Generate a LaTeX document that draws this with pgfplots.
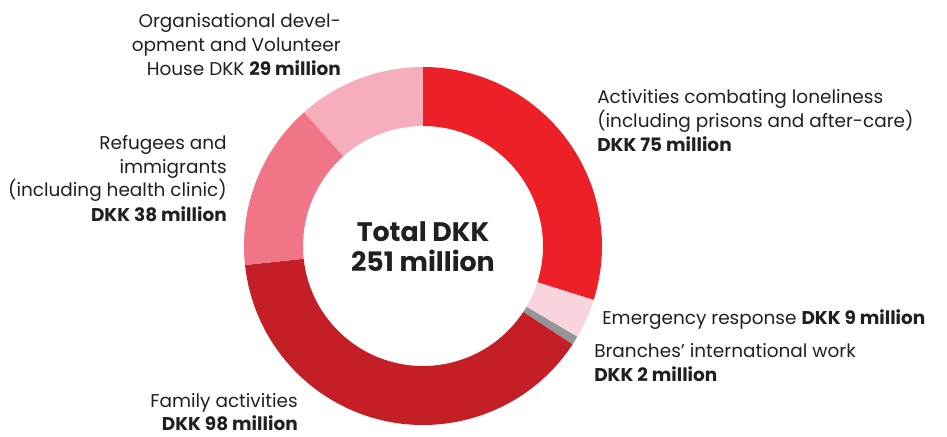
\documentclass[border=0pt]{standalone}
\usepackage{pgfplots}
\pgfplotsset{compat=1.18}
\usepackage{pgfplotstable}
\usepackage{fontspec}
\setmainfont{Poppins}
\definecolor{c0}{HTML}{ED1F27}
\definecolor{c1}{HTML}{F9D4DD}
\definecolor{c2}{HTML}{939598}
\definecolor{c3}{HTML}{C41F27}
\definecolor{c4}{HTML}{F07586}
\definecolor{c5}{HTML}{F6AEBC}
\definecolor{txt}{HTML}{231F20}
\pgfplotstableread{
idx value
0 75
1 9
2 2
3 98
4 38
5 29
}\donut
\newcommand\lab[4]{\node[anchor=#3,inner sep=0pt,text=txt,font=\fontsize{13.85pt}{16pt}\selectfont] at (axis cs:#1,#2) {#4};}
\begin{document}
\begin{tikzpicture}
\xdef\total{0}
\foreach \i in {0,...,5}{%
  \pgfplotstablegetelem{\i}{value}\of\donut
  \pgfmathsetmacro\tmp{\total+\pgfplotsretval}%
  \xdef\total{\tmp}%
}
\xdef\cumangle{90}
\foreach \i in {0,...,5}{%
  \pgfplotstablegetelem{\i}{value}\of\donut
  \pgfmathsetmacro\tmp{\cumangle-(360/\total)*\pgfplotsretval}%
  \expandafter\xdef\csname angs\i\endcsname{\cumangle}%
  \expandafter\xdef\csname ange\i\endcsname{\tmp}%
  \xdef\cumangle{\tmp}%
}
\begin{axis}[at={(0,0)},anchor=south west,scale only axis,width=710.25pt,height=327pt,
  xmin=0,xmax=947,ymin=0,ymax=436,hide axis,clip=false]
\pgfplotsinvokeforeach{0,...,5}{%
  \fill[c#1] (axis cs:423,190) ++(\csname angs#1\endcsname:134.25pt)
    arc[start angle=\csname angs#1\endcsname,end angle=\csname ange#1\endcsname,radius=134.25pt]
    -- ++({\csname ange#1\endcsname+180}:44.25pt)
    arc[start angle=\csname ange#1\endcsname,end angle=\csname angs#1\endcsname,radius=90pt]
    -- cycle;
}
% centre
\node[anchor=base,inner sep=0pt,text=txt,font=\fontsize{20.1pt}{22pt}\selectfont\bfseries] at (axis cs:423,194) {Total DKK};
\node[anchor=base,inner sep=0pt,text=txt,font=\fontsize{20.1pt}{22pt}\selectfont\bfseries] at (axis cs:423,164) {251 million};
% organisational
\lab{341}{408}{base east}{Organisational devel-}
\lab{341}{384}{base east}{opment and Volunteer}
\lab{341}{360}{base east}{House DKK \textbf{29 million}}
% refugees
\lab{227}{286}{base east}{Refugees and}
\lab{227}{262}{base east}{immigrants}
\lab{227}{239}{base east}{(including health clinic)}
\lab{227}{214}{base east}{\textbf{DKK 38 million}}
% loneliness
\lab{597}{332}{base west}{Activities combating loneliness}
\lab{597}{308}{base west}{(including prisons and after-care)}
\lab{597}{284}{base west}{\textbf{DKK 75 million}}
% emergency
\lab{602}{111}{base west}{Emergency response \textbf{DKK 9 million}}
% branches
\lab{594}{78}{base west}{Branches’ international work}
\lab{594}{54}{base west}{\textbf{DKK 2 million}}
% family
\lab{298}{28}{base east}{Family activities}
\lab{298}{6}{base east}{\textbf{DKK 98 million}}
\end{axis}
\pgfresetboundingbox
\path[use as bounding box] (0,0) rectangle (710.25pt,327pt);
\end{tikzpicture}
\end{document}
